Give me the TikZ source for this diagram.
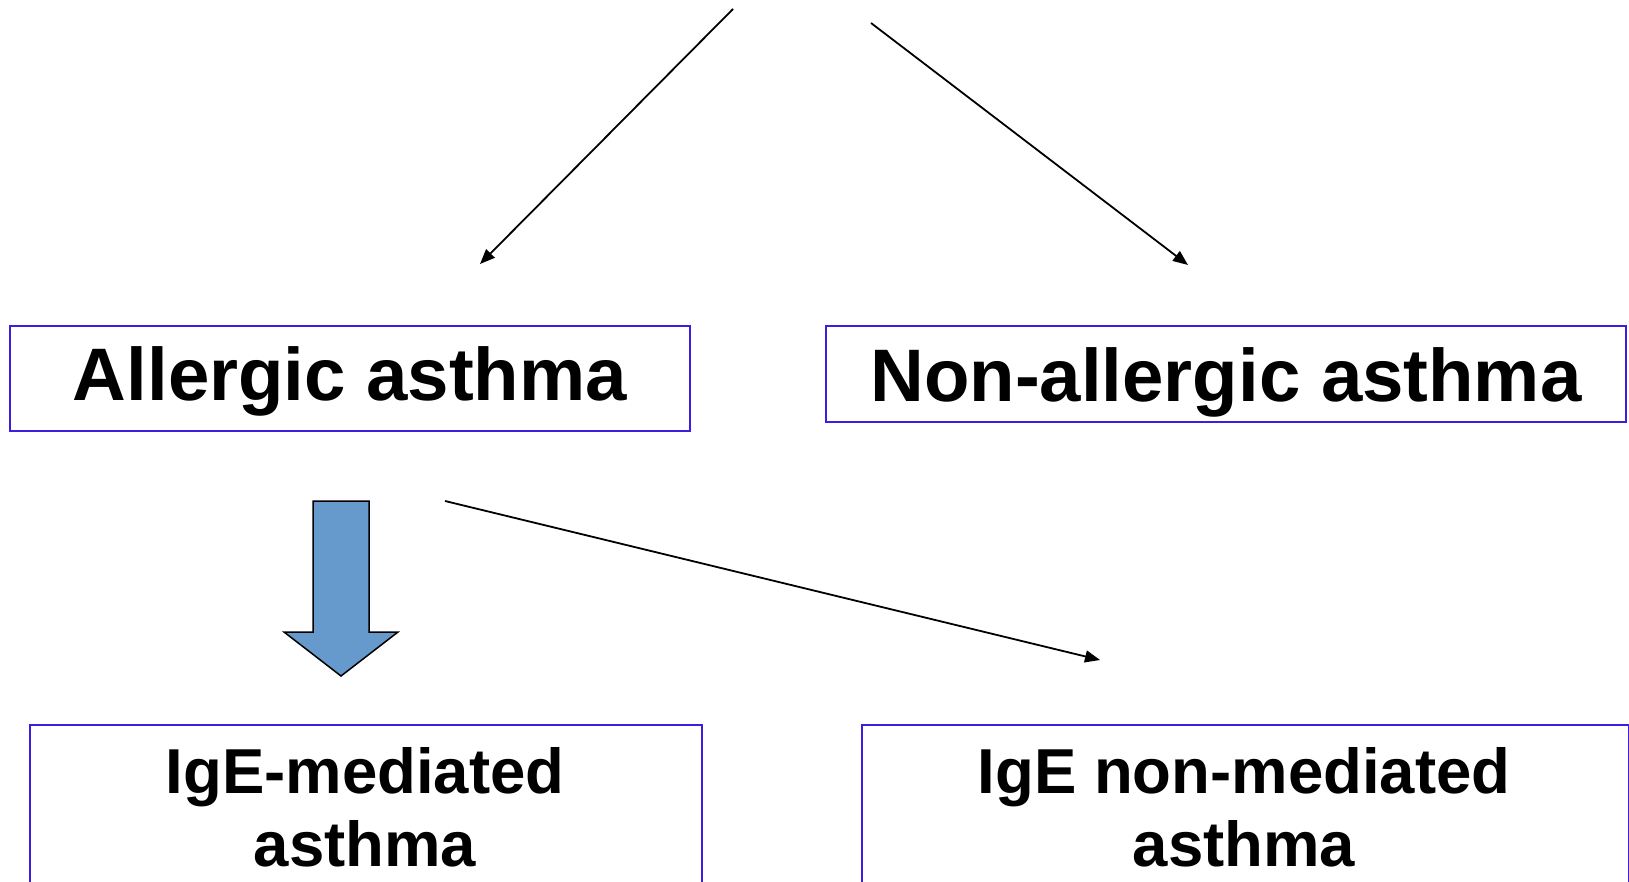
\documentclass[tikz,border=0pt]{standalone}
\usepackage{fontspec}
\setmainfont{Liberation Sans}
\usetikzlibrary{arrows.meta}
\definecolor{boxblue}{HTML}{3C1EE0}
\definecolor{arrowfill}{HTML}{6699CC}
\begin{document}
\begin{tikzpicture}[x=1pt,y=-1pt,
  frame/.style={draw=boxblue,line width=1.8pt,inner sep=0pt,
    font=\bfseries\fontsize{74.4}{86}\selectfont},
  lowlbl/.style={inner sep=0pt,align=center,
    font=\bfseries\fontsize{63.5}{73}\selectfont},
  conn/.style={line width=1.8pt,-{Triangle[length=15pt,width=12pt]}},
  blockarrow/.style={fill=arrowfill,draw=black,line width=1.5pt,line join=miter}]
\useasboundingbox (0,0) rectangle (1629,882);
\clip (0,0) rectangle (1629,882);
% top-level boxes
\node[frame,minimum width=680pt,text height=74pt,text depth=31pt] (allergic) at (350,400) [anchor=base] {Allergic asthma};
\node[frame,minimum width=800pt,text height=75pt,text depth=21pt] (nonallergic) at (1226,401) [anchor=base] {Non-allergic asthma};
% bottom boxes (cut off by the page edge)
\node[draw=boxblue,line width=1.8pt,minimum width=672pt,minimum height=220pt,anchor=north west,inner sep=0pt] (igebox) at (29,724) {};
\node[draw=boxblue,line width=1.8pt,minimum width=767pt,minimum height=220pt,anchor=north west,inner sep=0pt] (nonigebox) at (861,724) {};
\node[lowlbl,anchor=base] (ige1) at (365,793) {IgE-mediated};
\node[lowlbl,anchor=base] (ige2) at (365,866) {asthma};
\node[lowlbl,anchor=base] (nonige1) at (1244,793) {IgE non-mediated};
\node[lowlbl,anchor=base] (nonige2) at (1244,866) {asthma};
% connectors with free ends
\coordinate (s1) at (733,9);
\coordinate (e1) at (480,264);
\coordinate (s2) at (871,23);
\coordinate (e2) at (1188,265);
\coordinate (s3) at (445,501);
\coordinate (e3) at (1100,660);
\draw[conn] (s1) -- (e1);
\draw[conn] (s2) -- (e2);
\draw[conn] (s3) -- (e3);
% block arrow
\draw[blockarrow] (313,501) -- (369,501) -- (369,632) -- (398,632) -- (341,676)
  -- (284,632) -- (313,632) -- cycle;
\end{tikzpicture}
\end{document}
